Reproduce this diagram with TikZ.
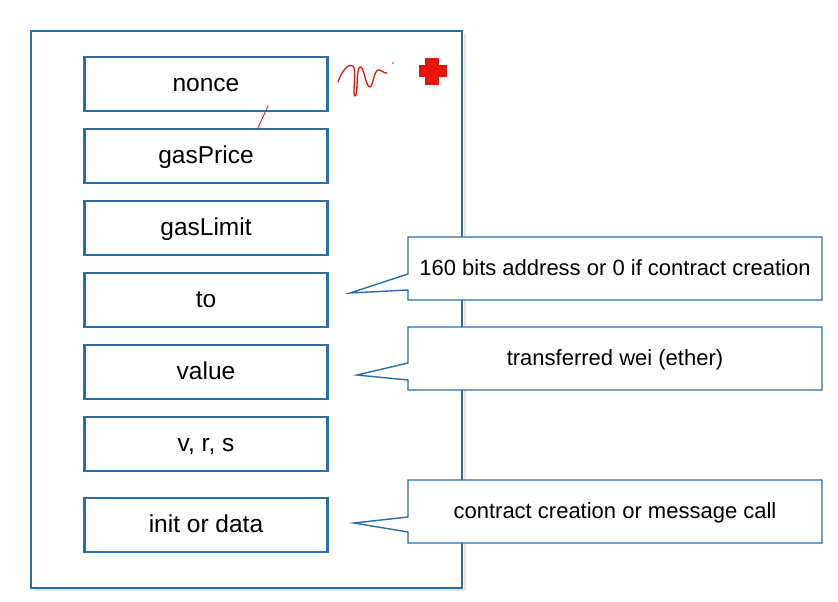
\documentclass[tikz,border=0pt]{standalone}
\usepackage{fontspec}
\setmainfont{Liberation Sans}
\definecolor{bblue}{RGB}{40,110,175}
\definecolor{ared}{RGB}{230,20,10}
\begin{document}
\begin{tikzpicture}[x=1pt,y=-1pt,
  field/.style={draw=bblue,line width=2.2pt,fill=white,minimum width=243pt,minimum height=54pt,inner sep=0pt,text height=19.8pt,text depth=5pt,font=\fontsize{24.5}{28}\selectfont},
  callout/.style={draw=bblue,line width=1.4pt,fill=white,line join=miter},
  ctext/.style={font=\fontsize{22}{26}\selectfont,inner sep=0pt,text height=17pt,text depth=4pt}]
\useasboundingbox (0,0) rectangle (838,602);
\fill[white] (0,0) rectangle (838,602);
% outer frame with faint shadow
\draw[black!10,line width=2pt] (34,590) -- (465,590) -- (465,34);
\draw[bblue,line width=2.6pt] (31,31) rectangle (462,588);
% fields
\node[field] (nonce) at (206,84) {nonce};
\node[field] (gasprice) at (206,156) {gasPrice};
\node[field] (gaslimit) at (206,228) {gasLimit};
\node[field] (to) at (206,300) {to};
\node[field] (value) at (206,372) {value};
\node[field] (vrs) at (206,444) {v, r, s};
\node[field] (init) at (206,525) {init or data};
% callouts
\coordinate (t1) at (350,293);
\coordinate (t2) at (357,375);
\coordinate (t3) at (354,523);
\draw[callout] (408,237) -- (822,237) -- (822,300) -- (408,300) -- (408,290) -- (t1) -- (408,274) -- cycle;
\node[ctext] (c1) at (615,268.5) {160 bits address or 0 if contract creation};
\draw[callout] (408,327) -- (822,327) -- (822,390) -- (408,390) -- (408,380) -- (t2) -- (408,363) -- cycle;
\node[ctext] (c2) at (615,359) {transferred wei (ether)};
\draw[callout] (408,480) -- (822,480) -- (822,543) -- (408,543) -- (408,532) -- (t3) -- (408,517) -- cycle;
\node[ctext] (c3) at (615,512) {contract creation or message call};
% red annotations
\fill[ared] (425,58) rectangle (439,85);
\fill[ared] (419,65) rectangle (447,77);
\draw[ared,line width=1.3pt,line cap=round,line join=round]
  (338,82) .. controls (342,70) and (349,63) .. (353,66)
  .. controls (357,70) and (352,95) .. (355,96)
  .. controls (358,97) and (356,68) .. (360,67)
  .. controls (364,66) and (366,88) .. (370,87)
  .. controls (373,86) and (374,71) .. (378,70)
  .. controls (381,69) and (384,74) .. (387,73);
\fill[ared] (393,63) circle (0.8);
\draw[ared,line width=0.8pt] (268,106) -- (257,130);
\end{tikzpicture}
\end{document}
